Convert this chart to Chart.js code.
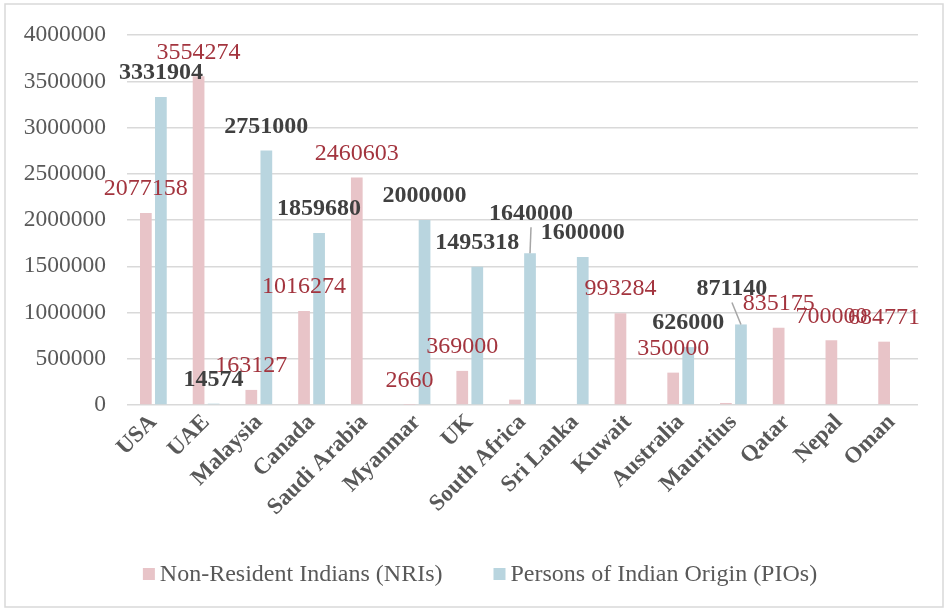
<!DOCTYPE html>
<html>
<head>
<meta charset="utf-8">
<script src="https://cdn.jsdelivr.net/npm/chart.js@4.4.1/dist/chart.umd.min.js"></script>
<style>
  html, body { margin: 0; padding: 0; background: #fff; }
  #wrap { position: relative; width: 947px; height: 611px; }
</style>
</head>
<body>
<div id="wrap"><canvas id="diasporaChart" width="947" height="611"></canvas></div>
<script>
  // data
  var countries = ["USA", "UAE", "Malaysia", "Canada", "Saudi Arabia", "Myanmar", "UK",
    "South Africa", "Sri Lanka", "Kuwait", "Australia", "Mauritius", "Qatar", "Nepal", "Oman"];
  var nriValues = [2077158, 3554274, 163127, 1016274, 2460603, 2660, 369000,
    58000, null, 993284, 350000, 22000, 835175, 700000, 684771];
  var pioValues = [3331904, 14574, 2751000, 1859680, null, 2000000, 1495318,
    1640000, 1600000, null, 626000, 871140, null, null, null];
  var yTicks = [0, 500000, 1000000, 1500000, 2000000, 2500000, 3000000, 3500000, 4000000];
  var seriesNames = ["Non-Resident Indians (NRIs)", "Persons of Indian Origin (PIOs)"];

  // label tweaks (hand-moved labels in the original)
  var hiddenLabels = { 0: [7, 11], 1: [] };
  var labelNudges = {
    1: {
      7: { dx: 1, dy: -16, leader: true },
      11: { dx: -9, dy: -12, leader: true }
    }
  };

  var FONT = "'Liberation Serif', 'Times New Roman', serif";
  var labelColors = ["#A3343E", "#404040"];

  var frame = {
    id: "frame",
    beforeDraw: function (chart) {
      var ctx = chart.ctx;
      ctx.save();
      ctx.fillStyle = "#fff";
      ctx.fillRect(0, 0, chart.width, chart.height);
      ctx.strokeStyle = "#D9D9D9";
      ctx.lineWidth = 1.5;
      ctx.strokeRect(5, 4, 938, 603);
      ctx.restore();
    }
  };

  var valueLabels = {
    id: "valueLabels",
    afterDatasetsDraw: function (chart) {
      var ctx = chart.ctx;
      ctx.save();
      ctx.textAlign = "center";
      ctx.textBaseline = "middle";
      chart.data.datasets.forEach(function (ds, di) {
        var meta = chart.getDatasetMeta(di);
        ctx.font = (di === 1 ? "bold " : "") + "24px " + FONT;
        meta.data.forEach(function (bar, i) {
          var v = ds.data[i];
          if (v === null || hiddenLabels[di].indexOf(i) >= 0) return;
          var n = (labelNudges[di] && labelNudges[di][i]) || { dx: 0, dy: 0 };
          var lx = bar.x + n.dx;
          var ly = bar.y - 24 + n.dy;
          if (n.leader) {
            ctx.strokeStyle = "#A6A6A6";
            ctx.lineWidth = 1.5;
            ctx.beginPath();
            ctx.moveTo(lx, ly + 14);
            ctx.lineTo(bar.x, bar.y);
            ctx.stroke();
          }
          ctx.fillStyle = labelColors[di];
          ctx.fillText(String(v), lx, ly);
        });
      });
      ctx.restore();
    }
  };

  var bottomLegend = {
    id: "bottomLegend",
    afterDraw: function (chart) {
      var ctx = chart.ctx;
      var box = 12, gap = 5, spacing = 51, cx = 480, cy = 574;
      ctx.save();
      ctx.font = "24px " + FONT;
      ctx.textBaseline = "middle";
      var widths = seriesNames.map(function (s) { return ctx.measureText(s).width; });
      var total = widths[0] + widths[1] + 2 * (box + gap) + spacing;
      var x = cx - total / 2;
      chart.data.datasets.forEach(function (ds, di) {
        ctx.fillStyle = ds.backgroundColor;
        ctx.fillRect(x, cy - box / 2, box, box);
        ctx.fillStyle = "#595959";
        ctx.fillText(seriesNames[di], x + box + gap, cy + 1);
        x += box + gap + widths[di] + spacing;
      });
      ctx.restore();
    }
  };

  new Chart(document.getElementById("diasporaChart"), {
    type: "bar",
    data: {
      labels: countries,
      datasets: [
        {
          label: seriesNames[0],
          data: nriValues,
          backgroundColor: "#E8C4C8",
          barPercentage: 0.78,
          categoryPercentage: 0.57
        },
        {
          label: seriesNames[1],
          data: pioValues,
          backgroundColor: "#B9D5DF",
          barPercentage: 0.78,
          categoryPercentage: 0.57
        }
      ]
    },
    options: {
      responsive: false,
      animation: false,
      layout: { padding: { left: 0, top: 32, right: 29, bottom: 0 } },
      plugins: {
        legend: { display: false },
        tooltip: { enabled: false }
      },
      scales: {
        y: {
          min: 0,
          max: 4000000,
          border: { display: false },
          grid: { color: "#D9D9D9", lineWidth: 1.5, drawTicks: false },
          afterBuildTicks: function (scale) {
            scale.ticks = yTicks.map(function (v) { return { value: v }; });
          },
          afterFit: function (scale) { scale.width = 127; },
          ticks: {
            padding: 21,
            color: "#595959",
            font: { family: FONT, size: 23.5 },
            callback: function (v) { return String(v); }
          }
        },
        x: {
          border: { display: false },
          grid: { display: false, drawTicks: false },
          afterFit: function (scale) { scale.height = 206; },
          ticks: {
            minRotation: 45,
            maxRotation: 45,
            autoSkip: false,
            padding: 4,
            color: "#595959",
            font: { family: FONT, size: 23, weight: "bold" }
          }
        }
      }
    },
    plugins: [frame, valueLabels, bottomLegend]
  });
</script>
</body>
</html>
